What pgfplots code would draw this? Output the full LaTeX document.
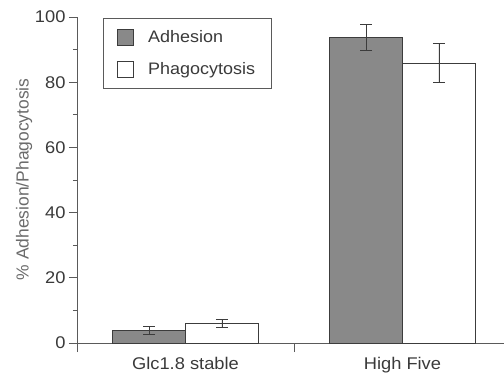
\documentclass[border=0pt]{standalone}
\usepackage{fontspec}
\setmainfont{Liberation Sans}[FakeStretch=1.08]
\newfontfamily\labelfont{Liberation Sans}
\usepackage{pgfplots}
\pgfplotsset{compat=1.18}
\definecolor{adh}{HTML}{898989}
\definecolor{edge}{HTML}{3C3C3C}
\definecolor{txt}{HTML}{3A3A3A}
\definecolor{axc}{HTML}{5A5A5A}
\pgfplotsset{
  mylegend/.style={legend image code/.code={\draw[##1,line width=0.8pt] (0bp,-8bp) rectangle (16bp,8bp);}}
}
\begin{document}
\begin{tikzpicture}
\begin{axis}[
  name=ax,
  scale only axis,
  width=427bp, height=326bp,
  xmin=-0.5, xmax=1.468,
  ymin=0, ymax=100,
  axis x line=bottom, axis y line=left,
  axis line style={axc, line width=0.8pt, -},
  ybar, bar width=0.336,
  xtick={0,1}, xticklabels={Glc1.8 stable, High Five},
  major x tick style={draw=none},
  extra x ticks={-0.5,0.5}, extra x tick labels={},
  extra x tick style={major x tick style={draw=axc}, major tick length=9bp},
  ytick={0,20,...,100}, minor ytick={10,30,50,70,90},
  tick align=outside,
  major tick length=8bp, minor tick length=4bp,
  tick style={axc, line width=0.8pt},
  every tick label/.append style={font=\fontsize{17}{19}\selectfont, text=txt},
  xticklabel style={yshift=-3bp},
  /pgf/number format/assume math mode=true,
  ylabel={\% Adhesion/Phagocytosis},
  ylabel style={font=\labelfont\fontsize{17.5}{19}\selectfont, text=txt!75, at={(axis description cs:-0.124,0.502)}, anchor=center},
  legend style={at={(axis description cs:0.061,0.997)}, anchor=north west, draw=axc, line width=0.8pt,
    font=\fontsize{16.7}{19}\selectfont, text=txt, inner xsep=14bp, inner ysep=10bp, row sep=15bp,
    /tikz/every odd column/.append style={column sep=12bp}},
  legend cell align=left,
  clip=false,
]
\addplot[fill=adh, draw=edge, line width=0.8pt, bar shift=-0.168, mylegend,
  error bars/.cd, y dir=both, y explicit,
  error bar style={line width=0.8pt, color=edge},
  error mark options={mark size=6bp, line width=0.8pt, color=edge, rotate=90}]
  coordinates {(0,3.8) +- (0,1.2) (1,93.7) +- (0,4.0)};
\addplot[fill=white, draw=edge, line width=0.8pt, bar shift=0.168, mylegend,
  error bars/.cd, y dir=both, y explicit,
  error bar style={line width=0.8pt, color=edge},
  error mark options={mark size=6bp, line width=0.8pt, color=edge, rotate=90}]
  coordinates {(0,5.9) +- (0,1.2) (1,85.8) +- (0,6.0)};
\legend{Adhesion, Phagocytosis}
\end{axis}
\pgfresetboundingbox
\path[use as bounding box] ([shift={(-77bp,-41bp)}]ax.south west) rectangle ([shift={(427bp,343bp)}]ax.south west);
\end{tikzpicture}
\end{document}
